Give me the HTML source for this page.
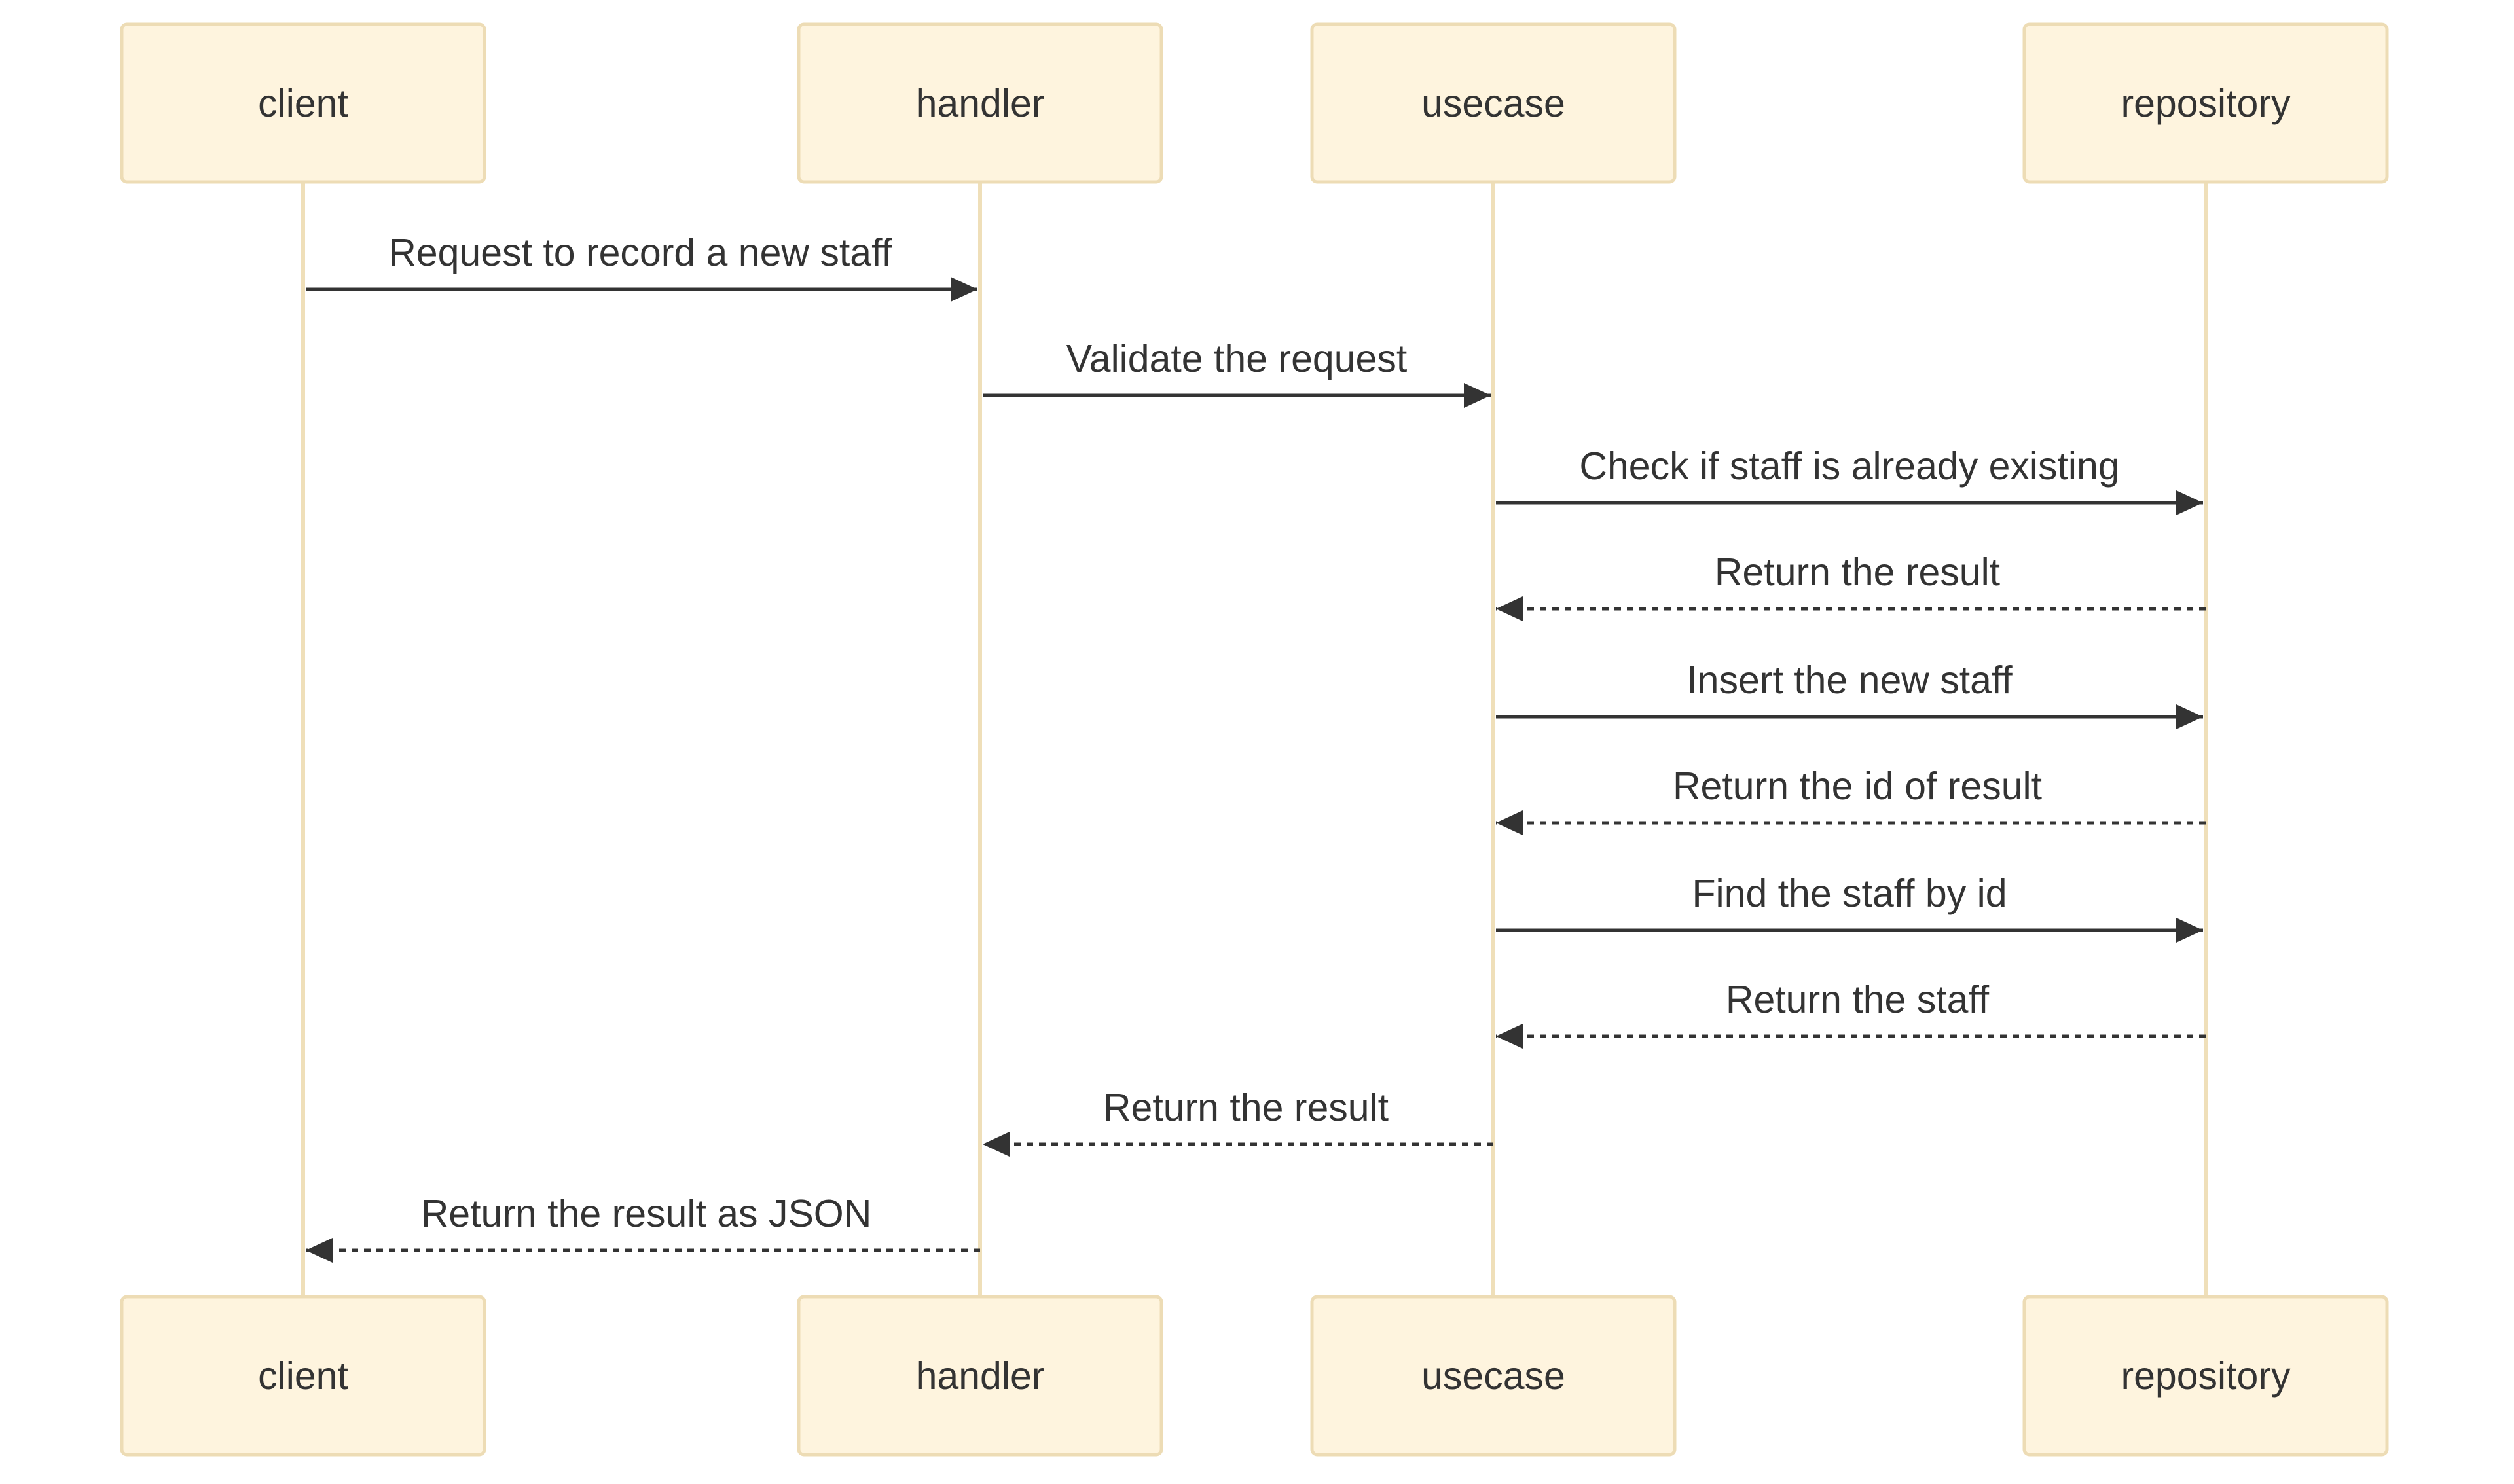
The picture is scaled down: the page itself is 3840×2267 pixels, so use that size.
<!DOCTYPE html>
<html><head><meta charset="utf-8"><style>html,body{margin:0;padding:0;background:#fff}svg{display:block}</style></head><body>
<svg width="3840" height="2267" viewBox="0 0 3840 2267" xmlns="http://www.w3.org/2000/svg" font-family="Liberation Sans, Arial, sans-serif">
<defs>
<marker id="ah" markerWidth="41" markerHeight="38" refX="41" refY="19" orient="auto" markerUnits="userSpaceOnUse" viewBox="0 0 41 38">
<path d="M0,0 L41,19 L0,38 z" fill="#333"/>
</marker>
</defs>
<g stroke="#efdfb9" stroke-width="6">
<line x1="463" y1="279" x2="463" y2="1980"/>
<line x1="1497" y1="279" x2="1497" y2="1980"/>
<line x1="2281" y1="279" x2="2281" y2="1980"/>
<line x1="3369" y1="279" x2="3369" y2="1980"/>
</g>
<g fill="#fef4de" stroke="#eddcb5" stroke-width="5">
<rect x="186" y="37" width="554" height="241" rx="8"/>
<rect x="1220" y="37" width="554" height="241" rx="8"/>
<rect x="2004" y="37" width="554" height="241" rx="8"/>
<rect x="3092" y="37" width="554" height="241" rx="8"/>
<rect x="186" y="1981" width="554" height="241" rx="8"/>
<rect x="1220" y="1981" width="554" height="241" rx="8"/>
<rect x="2004" y="1981" width="554" height="241" rx="8"/>
<rect x="3092" y="1981" width="554" height="241" rx="8"/>
</g>
<g font-size="59" fill="#333" text-anchor="middle">
<text x="463" y="178">client</text>
<text x="1497" y="178">handler</text>
<text x="2281" y="178">usecase</text>
<text x="3369" y="178">repository</text>
<text x="463" y="2122">client</text>
<text x="1497" y="2122">handler</text>
<text x="2281" y="2122">usecase</text>
<text x="3369" y="2122">repository</text>
</g>
<g stroke="#333" stroke-width="5" fill="none">
<line x1="467" y1="442" x2="1493" y2="442" marker-end="url(#ah)"/>
<line x1="1501" y1="604" x2="2277" y2="604" marker-end="url(#ah)"/>
<line x1="2285" y1="768" x2="3365" y2="768" marker-end="url(#ah)"/>
<line x1="3369" y1="930" x2="2285" y2="930" stroke-dasharray="10,9" marker-end="url(#ah)"/>
<line x1="2285" y1="1095" x2="3365" y2="1095" marker-end="url(#ah)"/>
<line x1="3369" y1="1257" x2="2285" y2="1257" stroke-dasharray="10,9" marker-end="url(#ah)"/>
<line x1="2285" y1="1421" x2="3365" y2="1421" marker-end="url(#ah)"/>
<line x1="3369" y1="1583" x2="2285" y2="1583" stroke-dasharray="10,9" marker-end="url(#ah)"/>
<line x1="2281" y1="1748" x2="1501" y2="1748" stroke-dasharray="10,9" marker-end="url(#ah)"/>
<line x1="1497" y1="1910" x2="467" y2="1910" stroke-dasharray="10,9" marker-end="url(#ah)"/>
</g>
<g font-size="59" fill="#333" text-anchor="middle">
<text x="978" y="406">Request to record a new staff</text>
<text x="1889" y="568">Validate the request</text>
<text x="2825" y="732">Check if staff is already existing</text>
<text x="2837" y="894">Return the result</text>
<text x="2825" y="1059">Insert the new staff</text>
<text x="2837" y="1221">Return the id of result</text>
<text x="2825" y="1385">Find the staff by id</text>
<text x="2837" y="1547">Return the staff</text>
<text x="1903" y="1712">Return the result</text>
<text x="987" y="1874">Return the result as JSON</text>
</g>
</svg>
</body></html>
